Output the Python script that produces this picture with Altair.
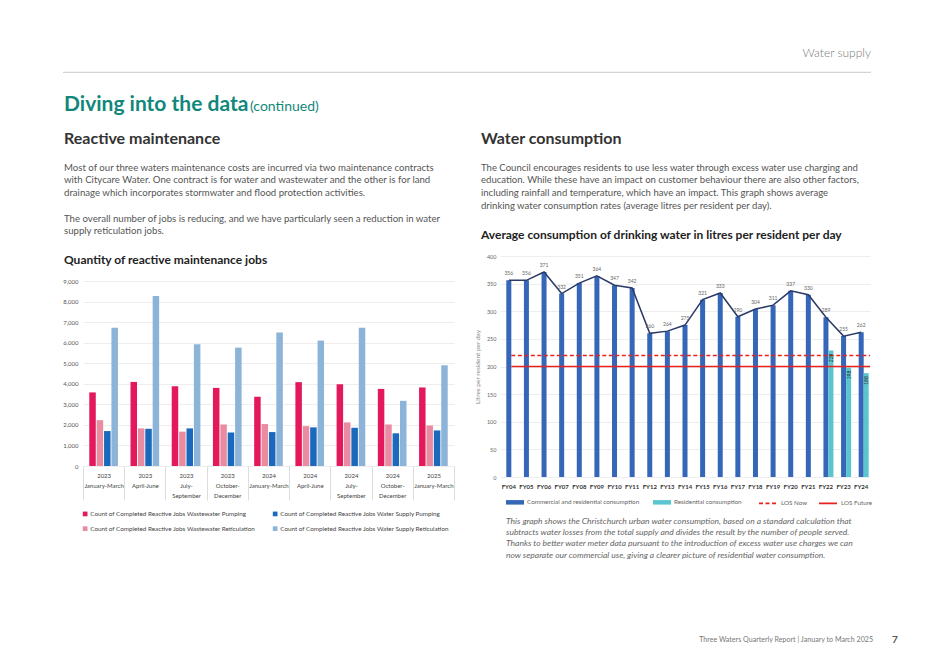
import altair as alt
import pandas as pd

FONT = "Lato"

# ---------------- page text ----------------
header_right = "Water supply"
page_title = "Diving into the data"
page_title_suffix = "(continued)"
left_heading = "Reactive maintenance"
left_para1 = [
    "Most of our three waters maintenance costs are incurred via two maintenance contracts",
    "with Citycare Water. One contract is for water and wastewater and the other is for land",
    "drainage which incorporates stormwater and flood protection activities.",
]
left_para2 = [
    "The overall number of jobs is reducing, and we have particularly seen a reduction in water",
    "supply reticulation jobs.",
]
left_chart_title = "Quantity of reactive maintenance jobs"
right_heading = "Water consumption"
right_para = [
    "The Council encourages residents to use less water through excess water use charging and",
    "education. While these have an impact on customer behaviour there are also other factors,",
    "including rainfall and temperature, which have an impact. This graph shows average",
    "drinking water consumption rates (average litres per resident per day).",
]
right_chart_title = "Average consumption of drinking water in litres per resident per day"
caption = [
    "This graph shows the Christchurch urban water consumption, based on a standard calculation that",
    "subtracts water losses from the total supply and divides the result by the number of people served.",
    "Thanks to better water meter data pursuant to the introduction of excess water use charges we can",
    "now separate our commercial use, giving a clearer picture of residential water consumption.",
]
footer_text = "Three Waters Quarterly Report  |  January to March 2025"
page_number = "7"

# ---------------- left chart data ----------------
periods = [
    "2023|January-March", "2023|April-June", "2023|July-|September", "2023|October-|December",
    "2024|January-March", "2024|April-June", "2024|July-|September", "2024|October-|December",
    "2025|January-March",
]
left_series = [
    "Count of Completed Reactive Jobs Wastewater Pumping",
    "Count of Completed Reactive Jobs Wastewater Reticulation",
    "Count of Completed Reactive Jobs Water Supply Pumping",
    "Count of Completed Reactive Jobs Water Supply Reticulation",
]
ww_pumping = [3580, 4090, 3880, 3800, 3370, 4080, 3980, 3750, 3820]
ww_reticulation = [2230, 1830, 1670, 2020, 2040, 1940, 2120, 2020, 1970]
ws_pumping = [1700, 1810, 1830, 1630, 1650, 1880, 1860, 1590, 1730]
ws_reticulation = [6720, 8270, 5920, 5760, 6490, 6100, 6720, 3170, 4900]
left_colors = ["#E3195C", "#E98CA2", "#1A69BC", "#8CB3D8"]
left_ticks = [0, 1000, 2000, 3000, 4000, 5000, 6000, 7000, 8000, 9000]

# ---------------- right chart data ----------------
fy = ["FY04", "FY05", "FY06", "FY07", "FY08", "FY09", "FY10", "FY11", "FY12", "FY13", "FY14",
      "FY15", "FY16", "FY17", "FY18", "FY19", "FY20", "FY21", "FY22", "FY23", "FY24"]
total_consumption = [356, 356, 371, 332, 351, 364, 347, 342, 260, 264, 275,
                     321, 333, 290, 304, 311, 337, 330, 289, 255, 262]
res_fy = ["FY22", "FY23", "FY24"]
residential_consumption = [229, 198, 188]
los_names = ["LOS Now", "LOS Future"]
los_levels = [220, 200]
bar_series = ["Commercial and residential consumption", "Residential consumption"]
bar_colors = ["#3566B8", "#5BC5CF"]
los_colors = ["#E8231E", "#E8231E"]
los_dashes = [[4, 2.5], [1, 0]]
right_ticks = [0, 50, 100, 150, 200, 250, 300, 350, 400]

# ---------------- tables ----------------
vals = [ww_pumping, ww_reticulation, ws_pumping, ws_reticulation]
df_left = pd.DataFrame(
    [{"period": p, "series": s, "count": v[i]}
     for s, v in zip(left_series, vals) for i, p in enumerate(periods)]
)
df_total = pd.DataFrame({"fy": fy, "value": total_consumption, "series": bar_series[0]})
df_res = pd.DataFrame({"fy": res_fy, "value": residential_consumption, "series": bar_series[1]})
df_los = pd.DataFrame({"fy": ["FY04"] * 2, "value": los_levels, "series": los_names})
one = pd.DataFrame({"k": [0]})


def txt(text, x, y, size, color, weight="normal", align="left", style="normal", line_height=None):
    kw = dict(align=align, baseline="alphabetic", fontSize=size, color=color,
              fontWeight=weight, font=FONT, fontStyle=style)
    if line_height:
        kw["lineHeight"] = line_height
    return alt.Chart(one).mark_text(**kw).encode(
        x=alt.value(x), y=alt.value(y), text=alt.value(text)
    )


# ---------------- left panel (origin = left plot top-left) ----------------
anchor = alt.Chart(one).mark_rule(strokeWidth=0, strokeOpacity=0).encode(
    x=alt.value(-75), y=alt.value(-248), y2=alt.value(-246)
)
header_rule = alt.Chart(one).mark_rule(color="#c8c8c8", strokeWidth=1).encode(
    x=alt.value(-20), x2=alt.value(788), y=alt.value(-183.7)
)

left_bars = alt.Chart(df_left).mark_bar().encode(
    x=alt.X(
        "period:N", sort=periods,
        scale=alt.Scale(paddingInner=0, paddingOuter=0),
        axis=alt.Axis(
            title=None, labelExpr="split(datum.label, '|')", labelAngle=0,
            tickBand="extent", tickSize=34, tickColor="#dddddd", domain=False,
            labelPadding=-28, labelFontSize=6, labelColor="#444444",
            labelLineHeight=10, labelBaseline="top", labelFont=FONT, grid=False,
        ),
    ),
    xOffset=alt.XOffset("series:N", sort=left_series,
                        scale=alt.Scale(paddingInner=0.12, paddingOuter=0.85)),
    y=alt.Y(
        "count:Q", scale=alt.Scale(domain=[0, 9000], range=[210, 25]),
        axis=alt.Axis(
            title=None, values=left_ticks, labelExpr="format(datum.value, ',')",
            labelFontSize=6, labelColor="#555555", labelPadding=5, ticks=False,
            domain=False, gridColor="#eeeeee", labelFont=FONT,
        ),
    ),
    color=alt.Color(
        "series:N", scale=alt.Scale(domain=left_series, range=left_colors),
        legend=alt.Legend(
            orient="none", legendX=-1, legendY=254.5, columns=2, title=None,
            symbolType="square", symbolSize=22, symbolStrokeWidth=0,
            labelFontSize=6.3, labelColor="#444444", labelLimit=400,
            columnPadding=16, rowPadding=8, labelFont=FONT, labelOffset=2,
        ),
    ),
)

left_panel = alt.layer(
    anchor,
    header_rule,
    txt(header_right, 788, -199.5, 12, "#7a7a7a", weight=300, align="right"),
    txt(page_title, -19, -145, 21, "#11877B", weight="bold"),
    txt(page_title_suffix, 167, -145, 14, "#11877B"),
    txt(left_heading, -19, -111.7, 16, "#333333", weight="bold"),
    txt(left_para1, -19, -85.3, 9.65, "#555555", line_height=12.65),
    txt(left_para2, -19, -34.3, 9.65, "#555555", line_height=12.65),
    txt(left_chart_title, -19, 8, 12, "#222222", weight="bold"),
    left_bars,
).properties(width=371, height=210)

# ---------------- right panel (origin = right plot top-left) ----------------
# legends are placed relative to the left panel origin (right panel starts 417 px to the right)
xr = alt.X(
    "fy:N", sort=fy,
    scale=alt.Scale(domain=fy, paddingInner=0, paddingOuter=0),
    axis=alt.Axis(
        title=None, labelAngle=0, labelFontSize=6, labelFontWeight="bold",
        labelColor="#333333", labelPadding=6, ticks=False, domain=False,
        grid=False, labelFont=FONT,
    ),
)
yr = alt.Y(
    "value:Q", scale=alt.Scale(domain=[0, 400]),
    axis=alt.Axis(
        title="Litres per resident per day", titleFontSize=6.5, titleColor="#888888",
        titleFontWeight="normal", titlePadding=6, titleFont=FONT,
        values=right_ticks, labelFontSize=5.5, labelColor="#666666",
        labelPadding=4, ticks=False, domain=False, gridColor="#eeeeee", labelFont=FONT,
    ),
)
fill_scale = alt.Scale(domain=bar_series, range=bar_colors)
bar_legend = alt.Legend(
    orient="none", legendX=423, legendY=237, direction="horizontal", title=None,
    symbolType="M-1,-0.25H1V0.25H-1Z", symbolSize=324, symbolStrokeWidth=0,
    labelFontSize=6.3, labelColor="#666666", columnPadding=13, labelOffset=3,
    labelFont=FONT, labelLimit=300,
)
los_legend = alt.Legend(
    orient="none", legendX=675, legendY=237, direction="horizontal", title=None,
    symbolType="stroke", symbolSize=324, symbolStrokeWidth=1.6,
    labelFontSize=6.3, labelColor="#666666", columnPadding=7, labelOffset=3,
    labelFont=FONT, labelLimit=300,
)

bars_total = alt.Chart(df_total).mark_bar(size=5).encode(
    x=xr, y=yr, fill=alt.Fill("series:N", scale=fill_scale, legend=bar_legend)
)
bars_res = alt.Chart(df_res).mark_bar(size=5, xOffset=5).encode(
    x=xr, y=yr, fill=alt.Fill("series:N", scale=fill_scale, legend=bar_legend)
)
res_labels = alt.Chart(df_res).mark_text(
    angle=270, align="right", baseline="middle", fontSize=5, color="#222222",
    xOffset=5, yOffset=3, font=FONT,
).encode(x=xr, y=yr, text="value:Q")
los_rules = alt.Chart(df_los).mark_rule(strokeWidth=1.6, xOffset=2.5).encode(
    x=xr, x2=alt.value(370), y=yr,
    stroke=alt.Stroke("series:N", scale=alt.Scale(domain=los_names, range=los_colors),
                      legend=los_legend),
    strokeDash=alt.StrokeDash("series:N", scale=alt.Scale(domain=los_names, range=los_dashes),
                              legend=los_legend),
)
total_line = alt.Chart(df_total).mark_line(color="#2B3A67", strokeWidth=1.5).encode(x=xr, y=yr)
total_labels = alt.Chart(df_total).mark_text(
    dy=-7, fontSize=5, color="#666666", font=FONT
).encode(x=xr, y=yr, text="value:Q")

right_panel = alt.layer(
    bars_total, bars_res, los_rules, total_line, total_labels, res_labels,
    txt(right_heading, -19, -111.7, 16, "#333333", weight="bold"),
    txt(right_para, -19, -85.3, 9.55, "#555555", line_height=12.65),
    txt(right_chart_title, -19, -17, 12, "#222222", weight="bold"),
    txt(caption, 6, 267.5, 8.5, "#666666", style="italic", line_height=11.4),
    txt(footer_text, 373, 386, 7.1, "#777777", align="right"),
    txt(page_number, 395, 387, 10, "#555555", weight="bold", align="center"),
).properties(width=370, height=221)

chart = alt.hconcat(left_panel, right_panel, spacing=46, bounds="flush").properties(
    padding=0
).configure(font=FONT).configure_view(stroke=None)

chart.save("out.html", embed_options={"renderer": "svg", "actions": False})
